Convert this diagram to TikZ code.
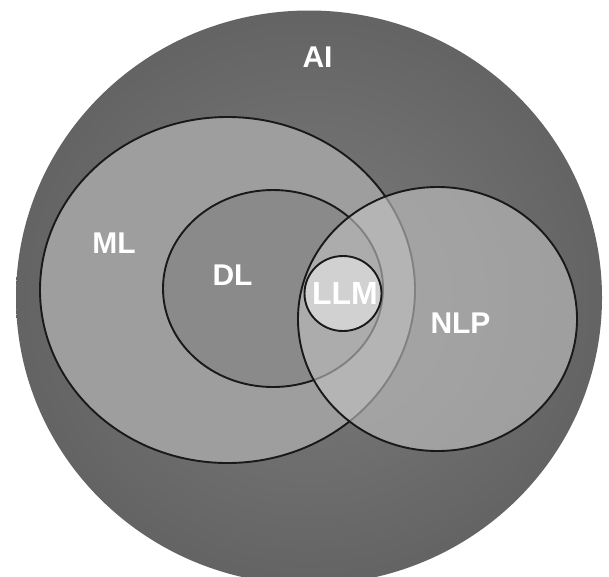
\documentclass[tikz,border=0pt]{standalone}
\usepackage{fontspec}
\setmainfont{Liberation Sans}
\begin{document}
\begin{tikzpicture}[x=1pt,y=-1pt,
  setring/.style={line width=1.9pt, draw=black!90},
  setlabel/.style={text=white, font=\bfseries\fontsize{30}{30}\selectfont, inner sep=0pt}]
\definecolor{aiin}{gray}{0.49}
\definecolor{aiout}{gray}{0.39}
\definecolor{mlfill}{gray}{0.62}
\definecolor{dlfill}{gray}{0.54}
\definecolor{nlpfill}{gray}{0.76}
\definecolor{llmfill}{gray}{0.82}
\useasboundingbox (0,0) rectangle (609,576);
\fill[white] (0,0) rectangle (609,576);
\clip (0,0) rectangle (609,576);
% AI
\shade[inner color=aiin, outer color=aiout] (309,297.5) ellipse [x radius=293pt, y radius=287pt];
% ML
\filldraw[setring, fill=mlfill] (227.5,290) ellipse [x radius=187.5pt, y radius=173pt];
% DL
\filldraw[setring, fill=dlfill] (273,288.5) ellipse [x radius=110pt, y radius=98.5pt];
% NLP (semi-transparent)
\fill[nlpfill, fill opacity=0.62] (437.5,319) ellipse [x radius=139.5pt, y radius=132pt];
\draw[setring] (437.5,319) ellipse [x radius=139.5pt, y radius=132pt];
% LLM
\filldraw[setring, fill=llmfill] (343,293.5) ellipse [x radius=38.5pt, y radius=37.5pt];
% labels
\node[setlabel] (ai) at (317.5,56.7) {AI};
\node[setlabel] (ml) at (114,243.5) {ML};
\node[setlabel] (dl) at (232.5,275) {DL};
\node[setlabel] (nlp) at (460.5,322.7) {NLP};
\node[setlabel, font=\bfseries\fontsize{32}{32}\selectfont] (llm) at (345,293.3) {LLM};
\end{tikzpicture}
\end{document}
